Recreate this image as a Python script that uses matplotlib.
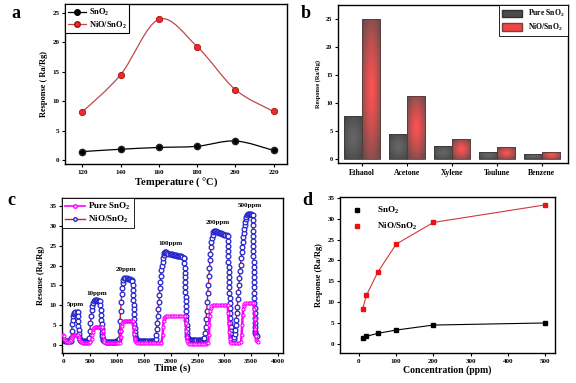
import numpy as np
import matplotlib.pyplot as plt
from matplotlib.path import Path
from matplotlib.patches import PathPatch, Patch
from matplotlib.lines import Line2D

plt.rcParams['font.family'] = 'Liberation Serif'
plt.rcParams['font.weight'] = 'bold'
plt.rcParams['axes.labelweight'] = 'bold'
plt.rcParams['mathtext.fontset'] = 'custom'
plt.rcParams['mathtext.rm'] = 'Liberation Serif:bold'
plt.rcParams['mathtext.default'] = 'rm'
plt.rcParams['axes.linewidth'] = 1.0

# (a) response vs operating temperature
temps = [120, 140, 160, 180, 200, 220]
a_sno2 = [1.5, 1.9, 2.2, 2.4, 3.3, 1.7]
a_nio = [8.2, 14.5, 23.9, 19.3, 12.0, 8.3]

# (b) selectivity
gases = ['Ethanol', 'Acetone', 'Xylene', 'Toulune', 'Benzene']
b_pure = [7.6, 4.4, 2.3, 1.3, 0.9]
b_nio = [25.0, 11.3, 3.5, 2.1, 1.3]

# (c) dynamic response, (time s, response)
nio_trace = [
    (0, 1.3), (20, 1.2), (40, 1.1), (60, 1.0), (80, 1.0), (100, 0.9), (120, 0.9), (140, 1.0),
    (150, 1.8), (160, 3.6), (170, 5.2), (180, 6.4), (190, 7.2), (200, 7.7), (210, 8.0), (230, 8.2),
    (250, 8.3), (270, 8.2),
    (275, 7.2), (280, 6.0), (285, 4.8), (290, 3.7), (295, 2.8), (300, 2.1), (310, 1.5), (320, 1.2),
    (340, 1.0), (360, 0.9), (380, 0.9), (400, 0.9), (420, 0.9), (440, 0.9), (460, 0.9), (480, 1.0),
    (490, 1.8), (500, 3.5), (510, 5.5), (520, 7.3), (530, 8.8), (540, 9.9), (550, 10.6), (570, 11.1),
    (590, 11.3), (610, 11.3), (630, 11.3), (650, 11.2), (670, 11.2), (690, 11.1),
    (695, 10.0), (700, 8.8), (705, 7.6), (710, 6.4), (715, 5.2), (720, 4.1), (725, 3.1), (730, 2.3),
    (740, 1.6), (750, 1.2), (770, 0.9), (790, 0.8), (810, 0.8), (830, 0.8), (850, 0.8), (870, 0.8),
    (890, 0.8), (910, 0.8), (930, 0.8), (950, 0.8), (970, 0.8), (990, 0.9), (1010, 0.9), (1030, 1.0),
    (1040, 1.6), (1050, 3.6), (1060, 6.0), (1070, 8.5), (1080, 10.8), (1090, 12.8), (1100, 14.4),
    (1110, 15.6), (1120, 16.3), (1140, 16.8), (1160, 16.9), (1180, 16.8), (1200, 16.7), (1220, 16.6),
    (1240, 16.5), (1260, 16.4), (1280, 16.3), (1290, 16.2),
    (1294, 15.0), (1298, 13.8), (1302, 12.6), (1306, 11.4), (1310, 10.2), (1314, 9.0), (1318, 7.8),
    (1322, 6.6), (1326, 5.4), (1330, 4.3), (1335, 3.3), (1340, 2.5), (1350, 1.8), (1360, 1.4),
    (1375, 1.1), (1390, 1.0), (1410, 1.0), (1430, 1.0), (1450, 0.9), (1470, 0.9), (1490, 0.9),
    (1510, 0.9), (1530, 0.9), (1550, 0.9), (1570, 0.9), (1590, 1.0), (1610, 1.0), (1630, 1.0),
    (1650, 1.0), (1670, 1.0), (1690, 1.1), (1710, 1.2),
    (1720, 1.5), (1730, 2.6), (1740, 4.0), (1750, 5.6), (1760, 7.3), (1770, 9.0), (1780, 10.8),
    (1790, 12.6), (1800, 14.3), (1810, 15.9), (1820, 17.4), (1830, 18.8), (1840, 20.0), (1850, 21.0),
    (1860, 21.9), (1870, 22.6), (1880, 23.1), (1890, 23.4), (1900, 23.5), (1920, 23.4), (1940, 23.2),
    (1960, 23.0), (1980, 22.9), (2000, 22.8), (2020, 22.8), (2040, 22.7), (2060, 22.7), (2080, 22.6),
    (2100, 22.6), (2120, 22.5), (2140, 22.5), (2160, 22.4), (2180, 22.3), (2200, 22.3), (2220, 22.2),
    (2240, 22.0), (2255, 21.8),
    (2258, 20.6), (2261, 19.4), (2264, 18.2), (2267, 17.0), (2270, 15.8), (2273, 14.6), (2276, 13.4),
    (2279, 12.2), (2282, 11.0), (2285, 9.8), (2288, 8.6), (2291, 7.4), (2294, 6.2), (2297, 5.0),
    (2300, 4.0), (2305, 3.1), (2310, 2.4), (2320, 1.9), (2330, 1.6), (2345, 1.4), (2360, 1.3),
    (2380, 1.3), (2400, 1.3), (2420, 1.2), (2440, 1.2), (2460, 1.2), (2480, 1.2), (2500, 1.2),
    (2520, 1.2), (2540, 1.2), (2560, 1.3), (2580, 1.3), (2600, 1.4), (2620, 1.5),
    (2630, 1.8), (2640, 3.0), (2650, 4.6), (2660, 6.5), (2670, 8.6), (2680, 10.8), (2690, 13.0),
    (2700, 15.2), (2710, 17.4), (2720, 19.4), (2730, 21.3), (2740, 23.0), (2750, 24.6), (2760, 25.9),
    (2770, 27.0), (2780, 27.8), (2790, 28.4), (2800, 28.7), (2820, 28.8), (2840, 28.7), (2860, 28.5),
    (2880, 28.4), (2900, 28.3), (2920, 28.2), (2940, 28.1), (2960, 28.0), (2980, 27.9), (3000, 27.8),
    (3020, 27.7), (3040, 27.6), (3060, 27.5),
    (3063, 26.2), (3066, 24.9), (3069, 23.6), (3072, 22.3), (3075, 21.0), (3078, 19.7), (3081, 18.4),
    (3084, 17.1), (3087, 15.8), (3090, 14.5), (3093, 13.2), (3096, 11.9), (3099, 10.6), (3102, 9.3),
    (3105, 8.0), (3108, 6.8), (3111, 5.6), (3114, 4.5), (3118, 3.5), (3123, 2.7), (3130, 2.1),
    (3140, 1.7), (3155, 1.5), (3170, 1.5),
    (3180, 2.0), (3190, 2.8), (3200, 3.8), (3210, 5.0), (3220, 6.4), (3230, 8.0), (3240, 9.7),
    (3250, 11.5), (3260, 13.3), (3270, 15.1), (3280, 16.9), (3290, 18.6), (3300, 20.2), (3310, 21.8),
    (3320, 23.3), (3330, 24.7), (3340, 26.0), (3350, 27.2), (3360, 28.3), (3370, 29.3), (3380, 30.2),
    (3390, 31.0), (3400, 31.7), (3410, 32.3), (3420, 32.8), (3430, 33.0), (3450, 33.1), (3470, 33.0),
    (3490, 32.9), (3510, 32.8), (3525, 32.7),
    (3527, 31.4), (3529, 30.1), (3531, 28.8), (3533, 27.5), (3535, 26.2), (3537, 24.9), (3539, 23.6),
    (3541, 22.3), (3543, 21.0), (3545, 19.7), (3547, 18.4), (3549, 17.1), (3551, 15.8), (3553, 14.5),
    (3555, 13.2), (3557, 11.9), (3559, 10.6), (3561, 9.3), (3563, 8.0), (3565, 6.8), (3567, 5.6),
    (3569, 4.5), (3571, 3.6), (3578, 3.0), (3588, 2.6), (3600, 2.4),
]
sno2_trace = [
    (0, 2.6), (10, 2.2), (20, 1.6), (30, 1.2), (50, 0.9), (70, 0.8), (90, 0.8), (110, 0.8), (130, 0.9),
    (150, 1.3), (160, 1.8), (170, 2.2), (180, 2.4), (200, 2.5), (220, 2.6), (240, 2.6), (260, 2.6),
    (280, 2.5), (290, 2.0), (300, 1.5), (310, 1.1), (330, 0.8), (350, 0.7), (370, 0.6), (390, 0.6),
    (410, 0.6), (430, 0.6), (450, 0.6), (470, 0.6), (490, 0.6), (510, 0.7),
    (530, 1.5), (540, 2.5), (550, 3.4), (560, 4.0), (570, 4.3), (590, 4.5), (610, 4.5), (630, 4.5),
    (650, 4.5), (670, 4.5), (690, 4.5), (710, 4.5), (730, 4.5),
    (740, 3.5), (750, 2.2), (760, 1.3), (770, 0.8), (790, 0.6), (810, 0.5), (830, 0.5), (850, 0.5),
    (870, 0.5), (890, 0.5), (910, 0.5), (930, 0.5), (950, 0.5), (970, 0.5), (990, 0.5), (1010, 0.5),
    (1030, 0.5), (1050, 0.6),
    (1070, 2.0), (1080, 3.6), (1090, 4.8), (1100, 5.5), (1110, 5.9), (1130, 6.0), (1150, 6.0),
    (1170, 6.0), (1190, 6.0), (1210, 6.0), (1230, 6.0), (1250, 6.0), (1270, 6.0), (1290, 6.0), (1300, 6.0),
    (1310, 4.5), (1320, 2.8), (1330, 1.6), (1340, 1.0), (1360, 0.7), (1380, 0.5), (1410, 0.5),
    (1440, 0.5), (1470, 0.5), (1500, 0.5), (1530, 0.5), (1560, 0.5), (1590, 0.5), (1620, 0.5),
    (1650, 0.5), (1680, 0.5), (1710, 0.5), (1740, 0.5), (1770, 0.5), (1800, 0.5), (1830, 0.6),
    (1850, 2.5), (1860, 4.5), (1870, 6.0), (1880, 6.8), (1890, 7.1), (1910, 7.2), (1940, 7.2),
    (1970, 7.2), (2000, 7.2), (2030, 7.2), (2060, 7.2), (2090, 7.2), (2120, 7.2), (2150, 7.2),
    (2180, 7.2), (2210, 7.2), (2240, 7.2), (2270, 7.2),
    (2280, 5.5), (2290, 3.5), (2300, 2.0), (2310, 1.0), (2330, 0.5), (2350, 0.3), (2380, 0.3),
    (2410, 0.3), (2440, 0.3), (2470, 0.3), (2500, 0.3), (2530, 0.3), (2560, 0.3), (2590, 0.3),
    (2620, 0.3), (2650, 0.3), (2680, 0.4), (2700, 0.6),
    (2710, 2.5), (2720, 5.0), (2730, 7.2), (2740, 8.6), (2750, 9.4), (2760, 9.8), (2780, 10.0),
    (2810, 10.0), (2840, 10.0), (2870, 10.0), (2900, 10.0), (2930, 10.0), (2960, 10.0), (2990, 10.0),
    (3020, 10.0), (3050, 10.0), (3060, 10.0),
    (3070, 8.0), (3080, 5.5), (3090, 3.2), (3100, 1.6), (3110, 0.8), (3130, 0.5), (3160, 0.4),
    (3190, 0.4), (3220, 0.4), (3250, 0.4), (3280, 0.5), (3310, 0.7),
    (3320, 2.5), (3330, 5.0), (3340, 7.5), (3350, 9.0), (3360, 9.9), (3370, 10.3), (3390, 10.5),
    (3420, 10.5), (3450, 10.5), (3480, 10.6), (3510, 10.6), (3540, 10.6),
    (3550, 9.0), (3560, 6.5), (3570, 4.0), (3580, 2.2), (3590, 1.2), (3600, 0.9), (3620, 0.8),
]
ppm_labels = ['5ppm', '10ppm', '20ppm', '100ppm', '200ppm', '500ppm']
ppm_label_t = [230, 620, 1180, 1990, 2880, 3470]
ppm_label_r = [9.6, 12.4, 18.3, 24.9, 30.3, 34.5]

# (d) response vs concentration
conc = [10, 20, 50, 100, 200, 500]
d_sno2 = [1.4, 1.8, 2.5, 3.3, 4.5, 5.0]
d_nio = [8.4, 11.6, 17.1, 23.9, 29.1, 33.3]

W, H = 576, 383
fig = plt.figure(figsize=(W / 100, H / 100), dpi=100)


def px_axes(l, t, r, b):
    return fig.add_axes([l / W, 1 - b / H, (r - l) / W, (b - t) / H])


def style(ax, fs=5):
    ax.tick_params(direction='out', length=2.5, width=0.8, labelsize=fs, pad=1.5)
    for s in ax.spines.values():
        s.set_linewidth(1.0)


def smooth_line(ax, x, y, color, lw):
    # Catmull-Rom style bezier through the data points
    p = np.column_stack([x, y]).astype(float)
    verts = [p[0]]
    codes = [Path.MOVETO]
    n = len(p)
    for i in range(n - 1):
        p0 = p[i - 1] if i > 0 else p[i]
        p3 = p[i + 2] if i + 2 < n else p[i + 1]
        c1 = p[i] + (p[i + 1] - p0) / 6
        c2 = p[i + 1] - (p3 - p[i]) / 6
        verts += [c1, c2, p[i + 1]]
        codes += [Path.CURVE4] * 3
    ax.add_patch(PathPatch(Path(verts, codes), fc='none', ec=color, lw=lw, zorder=2))


# ---- a ----
ax = px_axes(65, 4, 287, 164)
smooth_line(ax, temps, a_sno2, 'black', 0.9)
smooth_line(ax, temps, a_nio, '#c04848', 0.9)
ax.plot(temps, a_sno2, 'o', ms=4.5, mfc='black', mec='#222222', zorder=3)
ax.plot(temps, a_nio, 'o', ms=4.5, mfc='#ee2a2a', mec='#a01010', mew=0.6, zorder=3)
ax.set_xlim(111, 227)
ax.set_ylim(-0.6, 26.5)
ax.set_xticks(temps)
ax.set_yticks(range(0, 26, 5))
style(ax)
ax.set_xlabel('Temperature ( $\\degree$C)', fontsize=7.5, labelpad=1)
ax.set_ylabel('Response ( Ra/Rg)', fontsize=6, labelpad=3)
h = [Line2D([], [], color='black', lw=0.9, marker='o', ms=4, mfc='black'),
     Line2D([], [], color='#c04848', lw=0.9, marker='o', ms=4, mfc='#ee2a2a', mec='#a01010')]
leg = ax.legend(h, ['SnO$_2$', 'NiO/SnO$_2$'], loc='upper left', fontsize=6, borderaxespad=0,
                fancybox=False, edgecolor='black', framealpha=1, handlelength=2.2,
                handletextpad=0.4, borderpad=0.3, labelspacing=0.2)
leg.get_frame().set_linewidth(0.8)

# ---- b ----
ax = px_axes(338, 5, 568, 163)
xb = np.arange(len(gases))
bars1 = ax.bar(xb - 0.2, b_pure, 0.4, facecolor='none', edgecolor='#3a3a3a', lw=0.6, zorder=3)
bars2 = ax.bar(xb + 0.2, b_nio, 0.4, facecolor='none', edgecolor='#5a3a3a', lw=0.6, zorder=3)


def fill_gradient(ax, bars, c_mid, c_edge):
    u = np.linspace(-1, 1, 80)
    U, V = np.meshgrid(u, u)
    d = np.clip(np.sqrt(U ** 2 + V ** 2) / 1.25, 0, 1)[..., None] ** 1.3
    img = (1 - d) * np.array(c_mid) + d * np.array(c_edge)
    for b in bars:
        x0, y0, w, hh = b.get_x(), b.get_y(), b.get_width(), b.get_height()
        im = ax.imshow(img, extent=[x0, x0 + w, y0, y0 + hh], aspect='auto',
                       origin='lower', zorder=2, interpolation='bilinear')
        im.set_clip_path(b)


fill_gradient(ax, bars1, (0.40, 0.40, 0.40), (0.28, 0.28, 0.28))
fill_gradient(ax, bars2, (1.0, 0.32, 0.32), (0.42, 0.30, 0.30))
ax.set_xlim(-0.53, 4.58)
ax.set_ylim(-0.7, 27.5)
ax.set_xticks(xb)
ax.set_xticklabels(gases)
ax.set_yticks(range(0, 26, 5))
style(ax, 4.5)
ax.tick_params(axis='x', labelsize=5.5)
ax.set_ylabel('Response (Ra/Rg)', fontsize=4.5, labelpad=4)
h = [Patch(fc='#4a4a4a', ec='#333333'), Patch(fc='#f04444', ec='#7a4040')]
leg = ax.legend(h, ['Pure SnO$_2$', 'NiO/SnO$_2$'], loc='upper right', fontsize=5.5,
                borderaxespad=0, fancybox=False, edgecolor='black', framealpha=1,
                handlelength=2.6, handleheight=1.1, borderpad=0.4, labelspacing=0.3)
leg.get_frame().set_linewidth(0.6)

# ---- c ----
ax = px_axes(62, 198, 283, 353)
tn, rn = np.array(nio_trace).T
ts, rs = np.array(sno2_trace).T
ax.plot(tn, rn, color='#cc2020', lw=1.0, marker='o', ms=3.4, mfc='white', mec='#2222cc',
        mew=0.9, zorder=2)
ax.plot(ts, rs, color='#ff00ff', lw=1.8, marker='o', ms=2.2, mfc='white', mec='#ff00ff',
        mew=0.8, zorder=3)
for lab, tx, ty in zip(ppm_labels, ppm_label_t, ppm_label_r):
    ax.text(tx, ty, lab, fontsize=5, ha='center', va='bottom')
ax.set_xlim(-20, 4090)
ax.set_ylim(-2, 37)
ax.set_xticks(range(0, 4001, 500))
ax.set_yticks(range(0, 36, 5))
style(ax)
ax.set_xlabel('Time (s)', fontsize=7.5, labelpad=0)
ax.set_ylabel('Resonse (Ra/Rg)', fontsize=6, labelpad=3)
h = [Line2D([], [], color='#ff00ff', lw=1.2, marker='o', ms=2.5, mfc='white', mec='#ff00ff'),
     Line2D([], [], color='#cc2020', lw=1.0, marker='o', ms=2.5, mfc='white', mec='#2424c8')]
leg = ax.legend(h, ['Pure SnO$_2$', 'NiO/SnO$_2$'], loc='upper left', fontsize=6.5,
                borderaxespad=0, fancybox=False, edgecolor='black', framealpha=1,
                handlelength=2.2, handletextpad=0.4, borderpad=0.3, labelspacing=0.2)
leg.get_frame().set_linewidth(0.6)

# ---- d ----
ax = px_axes(340, 197, 555, 353)
ax.plot(conc, d_sno2, color='black', lw=0.8, marker='s', ms=3.5, mfc='black', mec='black')
ax.plot(conc, d_nio, color='#d03838', lw=0.8, marker='s', ms=3.5, mfc='#ee1010', mec='#ee1010')
ax.set_xlim(-51, 527)
ax.set_ylim(-2.2, 35.2)
ax.set_xticks(range(0, 501, 100))
ax.set_yticks(range(0, 36, 5))
style(ax)
ax.set_xlabel('Concentration (ppm)', fontsize=7, labelpad=1)
ax.set_ylabel('Response (Ra/Rg)', fontsize=6, labelpad=3)
h = [Line2D([], [], ls='none', marker='s', ms=3.5, color='black'),
     Line2D([], [], ls='none', marker='s', ms=3.5, color='#ee1010')]
ax.legend(h, ['SnO$_2$', 'NiO/SnO$_2$'], loc='upper left', fontsize=6.5, frameon=False,
          handletextpad=1.2, labelspacing=0.5, borderaxespad=0.5)

# panel letters
for lab, x, y in [('a', 16, 14), ('b', 306, 13), ('c', 11, 201), ('d', 307, 200)]:
    fig.text(x / W, 1 - y / H, lab, fontsize=13, fontweight='bold', ha='center', va='center')

fig.savefig('out.png', dpi=100)
